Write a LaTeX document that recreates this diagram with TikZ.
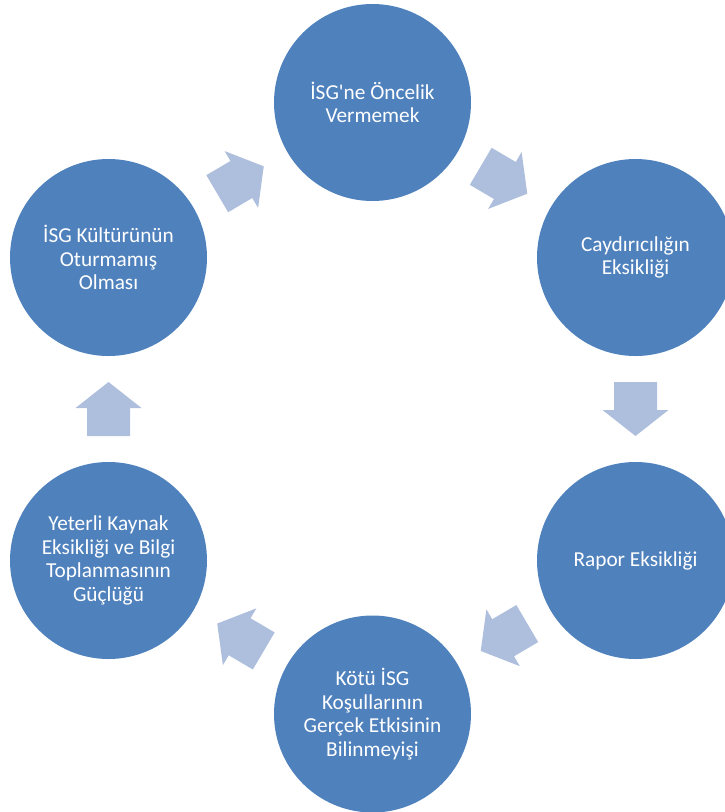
\documentclass[tikz,border=0pt]{standalone}
\usepackage{fontspec}
\newfontfamily\carl{Carlito}
\usetikzlibrary{calc}
\definecolor{circblue}{HTML}{4F81BD}
\definecolor{arrblue}{HTML}{AEBFDE}
\tikzset{
  cyclenode/.style={circle, fill=circblue, draw=none, minimum size=197pt, inner sep=0pt,
    text=white, align=center, font=\carl\fontsize{21.3}{23.5}\selectfont},
  barrow/.pic={
    \fill[arrblue] (-27,-21.5) -- (1,-21.5) -- (1,-33) -- (27,0) -- (1,33) -- (1,21.5) -- (-27,21.5) -- cycle;
  }
}
\begin{document}
\begin{tikzpicture}[x=1pt,y=1pt]
\useasboundingbox (0,0) rectangle (725,-812);
\node[cyclenode] (top) at (372.5,-102.5) {İSG'ne Öncelik\\Vermemek};
\node[cyclenode] (ur)  at (635.5,-257.5) {Caydırıcılığın\\Eksikliği};
\node[cyclenode] (lr)  at (635.5,-560.5) {Rapor Eksikliği};
\node[cyclenode] (bot) at (372.5,-714) {Kötü İSG\\Koşullarının\\Gerçek Etkisinin\\Bilinmeyişi};
\node[cyclenode] (ll)  at (108.5,-560.5) {Yeterli Kaynak\\Eksikliği ve Bilgi\\Toplanmasının\\Güçlüğü};
\node[cyclenode] (ul)  at (108.5,-257.5) {İSG Kültürünün\\Oturmamış\\Olması};
\pic[rotate=-30.5] at ($(top)!0.5!(ur)$) {barrow};
\pic[rotate=-90] at ($(ur)!0.5!(lr)$) {barrow};
\pic[rotate=-149.5] at ($(lr)!0.5!(bot)$) {barrow};
\pic[rotate=149.5] at ($(bot)!0.5!(ll)$) {barrow};
\pic[rotate=90] at ($(ll)!0.5!(ul)$) {barrow};
\pic[rotate=30.5] at ($(ul)!0.5!(top)$) {barrow};
\end{tikzpicture}
\end{document}
